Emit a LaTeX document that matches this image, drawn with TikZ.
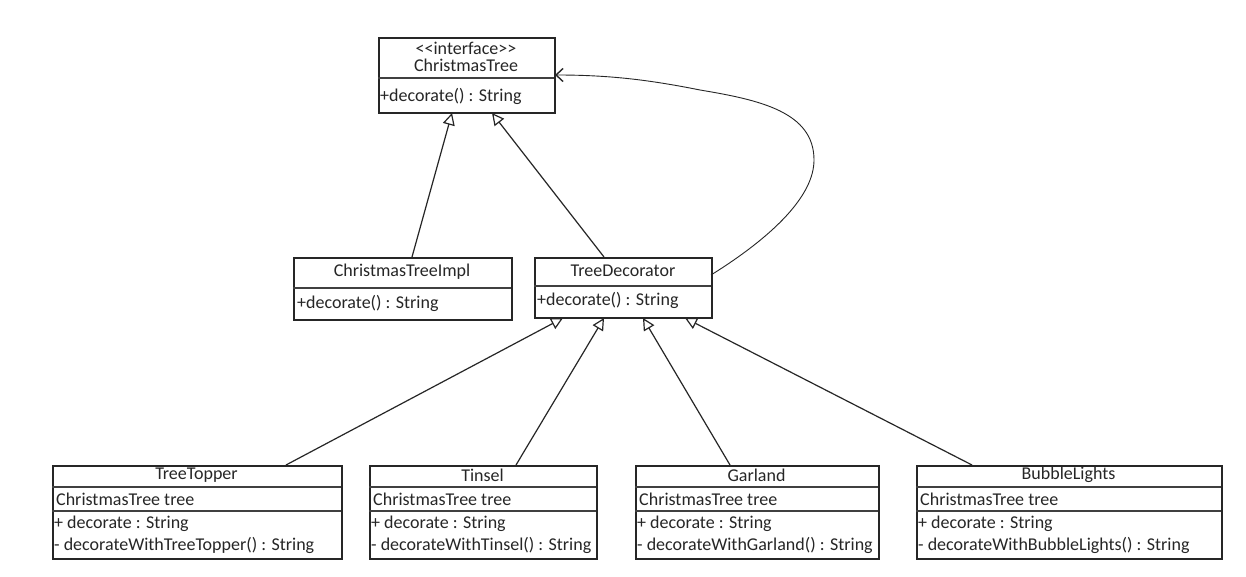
\documentclass[tikz,border=0pt]{standalone}
\usepackage{fontspec}
\setmainfont{Carlito}
\usetikzlibrary{arrows.meta}
\begin{document}
\begin{tikzpicture}[x=1pt,y=-1pt,
  box/.style={draw=black!85, line width=1.6pt},
  sep/.style={draw=black!75, line width=1.1pt},
  txt/.style={inner sep=0pt, font=\fontsize{18}{21}\selectfont, text=black!85},
  ltxt/.style={txt, anchor=west},
  inh/.style={draw=black!85, line width=1.2pt, -{Triangle[open, length=12pt, width=12pt, fill=white]}},
  dep/.style={draw=black!85, line width=0.9pt, -{Straight Barb[length=7pt, width=13pt, line width=1.4pt]}}]
\useasboundingbox (0,0) rectangle (1246,577);
\fill[white] (0,0) rectangle (1246,577);

% ChristmasTree interface
\node[box, anchor=north west, minimum width=176pt, minimum height=75pt, inner sep=0pt] (ct) at (378,37) {};
\draw[sep] (378,78) -- (554,78);
\node[txt] (ctst) at (466,48) {<{}<interface>{}>};
\node[txt] (ctn) at (466,65) {ChristmasTree};
\node[ltxt] (ctm) at (380,96) {+decorate() : String};

% ChristmasTreeImpl
\node[box, anchor=north west, minimum width=218pt, minimum height=62pt, inner sep=0pt] (impl) at (293,257) {};
\draw[sep] (293,288) -- (511,288);
\node[txt] (impln) at (402,272) {ChristmasTreeImpl};
\node[ltxt] (implm) at (297,303) {+decorate() : String};

% TreeDecorator
\node[box, anchor=north west, minimum width=177pt, minimum height=60pt, inner sep=0pt] (dec) at (534,257) {};
\draw[sep] (534,286) -- (711,286);
\node[txt] (decn) at (623,271) {TreeDecorator};
\node[ltxt] (decm) at (537,300) {+decorate() : String};

% bottom classes
\foreach \nm/\xa/\xb/\meth in {tt/52/341/TreeTopper, ti/369/596/Tinsel, ga/635/878/Garland, bl/916/1221/BubbleLights}{
  \node[box, anchor=north west, minimum width={\xb-\xa}, minimum height=93pt, inner sep=0pt] (\nm) at (\xa,465) {};
  \draw[sep] (\xa,487) -- (\xb,487);
  \draw[sep] (\xa,511) -- (\xb,511);
  \node[txt] (\nm-n) at ({(\xa+\xb)/2},475) {\meth};
  \node[ltxt] (\nm-a) at (\xa+4,499) {ChristmasTree tree};
  \node[ltxt] (\nm-m1) at (\xa+2,524) {+ decorate : String};
  \node[ltxt] (\nm-m2) at (\xa+2,545) {- decorateWith\meth() : String};
}

% coordinates for connector ends
\coordinate (ctb1) at (452,113);
\coordinate (ctb2) at (492,113);
\coordinate (ctr) at (555,75);
\coordinate (impt) at (412,257);
\coordinate (dect) at (604,257);
\coordinate (decr) at (711,275);
\coordinate (db1) at (563,318);
\coordinate (db2) at (604,318);
\coordinate (db3) at (643,318);
\coordinate (db4) at (685,318);
\coordinate (ttt) at (286,465);
\coordinate (tit) at (516,465);
\coordinate (gat) at (730,465);
\coordinate (blt) at (972,465);

% connectors
\draw[inh] (impt) -- (ctb1);
\draw[inh] (dect) -- (ctb2);
\draw[inh] (ttt) -- (db1);
\draw[inh] (tit) -- (db2);
\draw[inh] (gat) -- (db3);
\draw[inh] (blt) -- (db4);
\draw[dep] (decr) .. controls (775,235) and (814,195) .. (814,160) .. controls (814,112) and (760,100) .. (700,90) .. controls (650,80) and (610,75) .. (ctr);
\end{tikzpicture}
\end{document}
